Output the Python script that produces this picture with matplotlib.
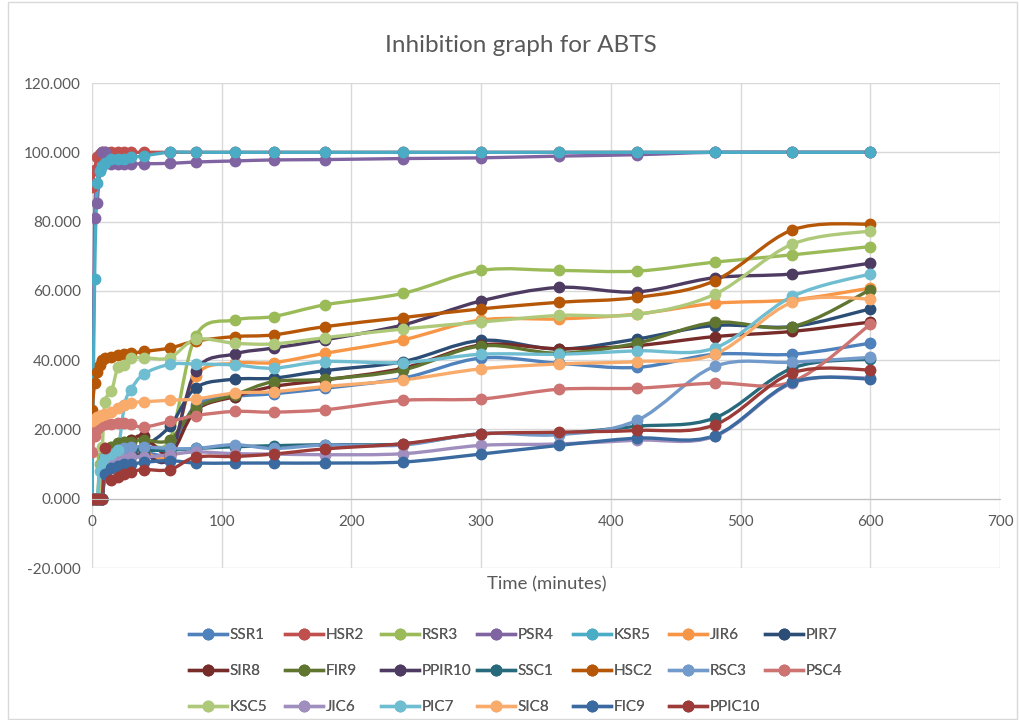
import numpy as np
import matplotlib
matplotlib.use('Agg')
import matplotlib.pyplot as plt
from matplotlib.path import Path
from matplotlib.patches import PathPatch, Rectangle
from matplotlib.lines import Line2D

# sampling times (minutes)
time = [0, 2, 4, 6, 8, 10, 15, 20, 25, 30, 40, 60, 80, 110, 140, 180, 240, 300, 360, 420, 480, 540, 600]

# % inhibition per sample
SSR1 = [0, 0, 0, 0, 0, 10, 12, 13, 13, 13, 13.5, 13.5, 27, 29.5, 30.3, 31.9, 34.8, 40.6, 39.1, 37.9, 41.7, 41.7, 44.9]
HSR2 = [90.1, 95, 98.5, 99.5, 100, 100, 100, 100, 100, 100, 100, 100, 100, 100, 100, 100, 100, 100, 100, 100, 100, 100, 100]
RSR3 = [0, 0, 0, 10, 12, 14, 15, 16, 16.5, 17, 17, 17, 47, 51.6, 52.6, 56, 59.3, 65.9, 65.9, 65.7, 68.3, 70.4, 72.8]
PSR4 = [0, 81, 85.5, 95, 100, 100, 96.5, 96.5, 96.5, 96.6, 96.7, 96.8, 97.2, 97.5, 97.8, 97.9, 98.2, 98.4, 98.9, 99.3, 100, 100, 100]
KSR5 = [0, 63.5, 91, 94.5, 96, 97, 98, 98, 98.2, 98.5, 99, 100, 100, 100, 100, 100, 100, 100, 100, 100, 100, 100, 100]
JIR6 = [0, 0, 0, 0, 0, 10, 12, 13, 13, 13.5, 13.5, 13, 35.5, 39.1, 39.3, 42, 45.9, 51.6, 51.9, 53.3, 56.4, 57.4, 60.8]
PIR7 = [0, 0, 0, 0, 0, 9, 11, 12, 13, 14, 15, 20.9, 32, 34.5, 34.8, 37, 39.6, 45.7, 43.2, 46.1, 50, 49.7, 54.8]
SIR8 = [0, 0, 0, 0, 0, 10, 13, 15, 16, 17, 18, 13, 25.5, 29.5, 32.4, 34.3, 37.7, 44.4, 43.3, 44.2, 46.8, 48.3, 51]
FIR9 = [0, 0, 0, 0, 0, 12, 15, 16, 16.5, 16.5, 17, 17, 26.2, 30, 33.8, 34.5, 37.2, 44.1, 42, 44.9, 50.9, 49.7, 60.3]
PPIR10 = [0, 0, 0, 0, 0, 9, 11, 12, 12.5, 13, 13, 12, 37, 41.8, 43.5, 45.9, 50.2, 57.1, 61, 59.7, 63.8, 64.9, 68]
SSC1 = [0, 0, 0, 0, 0, 8, 11, 13, 13.5, 14, 14, 14, 14.5, 15, 15.3, 15.6, 15.8, 18.7, 18.9, 20.9, 23.3, 37.7, 40.3]
HSC2 = [25.5, 33.4, 36.7, 38.5, 40, 40.7, 41, 41.5, 41.8, 42, 42.5, 43.5, 45.5, 46.8, 47.3, 49.7, 52.3, 54.8, 56.7, 58.1, 62.9, 77.6, 79.3]
RSC3 = [0, 0, 0, 0, 0, 10, 13, 14, 14.5, 15, 15, 14.5, 14.5, 15.6, 14.5, 15.5, 15.5, 18.8, 18.5, 22.6, 38.2, 39.4, 40.8]
PSC4 = [13.6, 18, 20, 21, 21.5, 21.5, 21.5, 21.8, 21.8, 21.5, 20.7, 22.3, 24, 25.2, 25, 25.7, 28.4, 28.8, 31.6, 31.9, 33.4, 33.8, 50.3]
KSC5 = [0, 0, 0, 0, 15, 28, 31, 38, 38.5, 40.7, 40.7, 40.7, 46, 44.9, 44.7, 46.5, 49, 51, 52.9, 53.2, 59, 73.5, 77.3]
JIC6 = [0, 0, 0, 0, 0, 8, 10, 11, 11.5, 12, 12, 12.7, 13.5, 13, 12.9, 12.7, 13, 15.4, 15.8, 16.9, 18, 33.4, 34.9]
PIC7 = [0, 0, 0, 8, 10, 12, 13, 14, 27, 31.5, 36, 38.8, 38.9, 38.6, 37.7, 39.6, 39.3, 41.7, 41.7, 42.7, 43.5, 58.4, 64.9]
SIC8 = [22.3, 23, 23.5, 24, 24.2, 24.5, 25, 26.2, 27, 27.7, 28, 28.4, 28.8, 30.5, 30.9, 32.4, 34.3, 37.5, 38.9, 39.6, 41.7, 56.7, 57.7]
FIC9 = [0, 0, 0, 0, 0, 7, 9, 9.5, 10, 10, 10.5, 11, 10.3, 10.3, 10.3, 10.3, 10.6, 12.9, 15.4, 17.5, 18.2, 33.6, 34.6]
PPIC10 = [0, 0, 0, 0, 0, 14.5, 5.5, 6.3, 7, 7.8, 8.4, 8.4, 12, 12.2, 12.9, 14.4, 15.9, 18.7, 19.2, 19.7, 21.3, 36.3, 37.2]

names = ['SSR1', 'HSR2', 'RSR3', 'PSR4', 'KSR5', 'JIR6', 'PIR7', 'SIR8', 'FIR9', 'PPIR10',
         'SSC1', 'HSC2', 'RSC3', 'PSC4', 'KSC5', 'JIC6', 'PIC7', 'SIC8', 'FIC9', 'PPIC10']
series = [SSR1, HSR2, RSR3, PSR4, KSR5, JIR6, PIR7, SIR8, FIR9, PPIR10,
          SSC1, HSC2, RSC3, PSC4, KSC5, JIC6, PIC7, SIC8, FIC9, PPIC10]
colors = ['#4F81BD', '#C0504D', '#9BBB59', '#8064A2', '#4BACC6', '#F79646', '#2C4D75',
          '#772C2A', '#5F7530', '#4D3B62', '#276A7C', '#B65708', '#729ACA', '#CD7371',
          '#AFC97A', '#A08FBE', '#6FBDD1', '#F9AB6B', '#3A6A9F', '#9C3B38']


# smooth line like excel: bezier segments through the points
def smooth_path(x, y):
    x = np.asarray(x, float)
    y = np.asarray(y, float)
    n = len(x)
    verts = [(x[0], y[0])]
    codes = [Path.MOVETO]
    for i in range(n - 1):
        i0 = max(i - 1, 0)
        i3 = min(i + 2, n - 1)
        c1 = (x[i] + (x[i+1] - x[i0]) / 6, y[i] + (y[i+1] - y[i0]) / 6)
        c2 = (x[i+1] - (x[i3] - x[i]) / 6, y[i+1] - (y[i3] - y[i]) / 6)
        verts += [c1, c2, (x[i+1], y[i+1])]
        codes += [Path.CURVE4] * 3
    return Path(verts, codes)


plt.rcParams['font.family'] = ['Lato', 'DejaVu Sans']
grey = '#595959'
W, H = 1019, 720

fig = plt.figure(figsize=(W / 100, H / 100), dpi=100)
fig.patches.append(Rectangle((0.008, 0.002), 0.99, 0.995, transform=fig.transFigure,
                             fill=False, edgecolor='#D9D9D9', linewidth=1))
ax = fig.add_axes([0.0903, 0.2111, 0.8910, 0.6736])

handles = []
for name, vals, c in zip(names, series, colors):
    ax.add_patch(PathPatch(smooth_path(time, vals), fill=False, edgecolor=c, linewidth=2.4,
                           capstyle='round', joinstyle='round'))
    ax.plot(time, vals, linestyle='none', marker='o', markersize=7.5, color=c)
    handles.append(Line2D([], [], color=c, linewidth=2.4, marker='o', markersize=7.5))

ax.set_xlim(0, 700)
ax.set_ylim(-20, 120)
ax.set_xticks(np.arange(0, 701, 100))
ax.set_yticks(np.arange(-20, 121, 20))
ax.yaxis.set_major_formatter(matplotlib.ticker.FormatStrFormatter('%.3f'))
ax.grid(color='#D9D9D9', linewidth=1)
ax.set_axisbelow(True)
for s in ['top', 'right', 'left']:
    ax.spines[s].set_visible(False)
ax.spines['bottom'].set_position(('data', 0))
ax.spines['bottom'].set_color('#BFBFBF')
ax.tick_params(length=0, labelsize=11, labelcolor=grey)
ax.tick_params(axis='x', pad=12)
ax.tick_params(axis='y', pad=8)

fig.text(521 / W, 1 - 45 / H, 'Inhibition graph for ABTS', ha='center', va='center',
         fontsize=17.5, color=grey)
fig.text(547 / W, 1 - 584 / H, 'Time (minutes)', ha='center', va='center', fontsize=13.3, color=grey)

# legend: 7 evenly spaced columns, filled row by row like excel
for j in range(7):
    idx = [r * 7 + j for r in range(3) if r * 7 + j < len(names)]
    leg = fig.legend([handles[k] for k in idx], [names[k] for k in idx],
                     loc='upper left', bbox_to_anchor=((189 + 96 * j) / W, 1 - 628 / H),
                     frameon=False, fontsize=11, labelcolor=grey, handlelength=2.5,
                     handletextpad=0.15, labelspacing=1.45, borderpad=0, borderaxespad=0)
    fig.add_artist(leg)

fig.savefig('out.png', dpi=100)
